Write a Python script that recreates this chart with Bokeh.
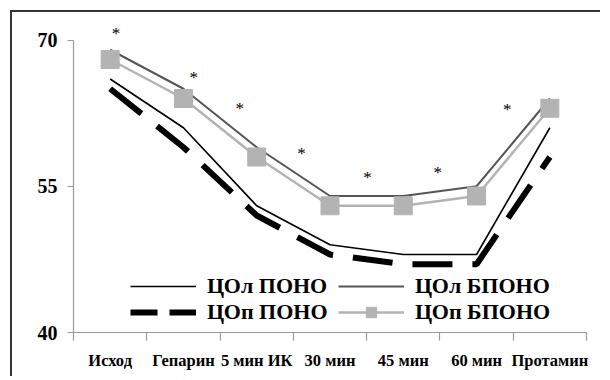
from bokeh.plotting import figure
from bokeh.models import Range1d, FixedTicker, Legend, LegendItem, InlineStyleSheet
from bokeh.core.properties import value
from bokeh.embed import file_html
from bokeh.resources import INLINE

# ---- data -------------------------------------------------------------
categories = ["Исход", "Гепарин", "5 мин ИК", "30 мин", "45 мин", "60 мин", "Протамин"]
col_pono = [66, 61, 53, 49, 48, 48, 61]      # ЦОл ПОНО
cop_pono = [65, 59, 52, 48, 47, 47, 58]      # ЦОп ПОНО
col_bpono = [69, 65, 59, 54, 54, 55, 64]     # ЦОл БПОНО
cop_bpono = [68, 64, 58, 53, 53, 54, 63]     # ЦОп БПОНО
star_pos = [0.58, 1.64, 2.27, 3.11, 4.01, 4.97, 5.92]
star_vals = [70.7, 66.2, 63.0, 58.4, 55.9, 56.4, 62.9]
y_ticks = [40, 55, 70]

x = [i + 0.5 for i in range(len(categories))]
bounds = list(range(len(categories) + 1))

SERIF = "Liberation Serif"

p = figure(width=590, height=366, output_backend="svg", toolbar_location=None,
           x_range=Range1d(0, len(categories)), y_range=Range1d(40, 72),
           min_border_left=61, min_border_right=16, min_border_top=8, min_border_bottom=46)
p.outline_line_color = None
p.xgrid.visible = False
p.ygrid.visible = False
p.background_fill_color = "white"
p.border_fill_color = "white"

# x axis: labels at category centres, tick marks (minor) at boundaries
xa = p.xaxis[0]
xa.ticker = FixedTicker(ticks=x, minor_ticks=bounds)
xa.major_label_overrides = {xi: c for xi, c in zip(x, categories)}
xa.axis_line_color = "#999999"
xa.axis_line_width = 1.2
xa.major_tick_out = 0
xa.major_tick_in = 0
xa.minor_tick_out = 8
xa.minor_tick_in = 0
xa.minor_tick_line_color = "#999999"
xa.minor_tick_line_width = 1.2
xa.major_label_standoff = 10
xa.major_label_text_font = SERIF
xa.major_label_text_font_style = "bold"
xa.major_label_text_font_size = "16.5px"
xa.major_label_text_color = "black"

ya = p.yaxis[0]
ya.ticker = FixedTicker(ticks=y_ticks, minor_ticks=[])
ya.bounds = (40, 70)
ya.axis_line_color = "#999999"
ya.axis_line_width = 1.2
ya.major_tick_out = 6
ya.major_tick_in = 0
ya.major_tick_line_color = "#999999"
ya.major_tick_line_width = 1.2
ya.minor_tick_line_color = None
ya.major_label_standoff = 10
ya.major_label_text_font = SERIF
ya.major_label_text_font_style = "bold"
ya.major_label_text_font_size = "20px"
ya.major_label_text_color = "black"

# series
r_col_pono = p.line(x, col_pono, line_color="black", line_width=1.6)
r_cop_pono = p.line(x, cop_pono, line_color="black", line_width=6, line_dash="40 20")
r_cop_pono_leg = p.line(x, cop_pono, line_color="black", line_width=6, line_dash="27 12", visible=False)
r_col_bpono = p.line(x, col_bpono, line_color="#555555", line_width=2)
r_cop_bpono = p.line(x, cop_bpono, line_color="#b3b3b3", line_width=2.5)
r_cop_bpono_m = p.scatter(x, cop_bpono, marker="square", size=18,
                          fill_color="#b3b3b3", line_color="#b3b3b3")

p.text(x=star_pos, y=star_vals, text=["*"] * len(star_pos), text_align="center",
       text_baseline="middle", text_font=value(SERIF), text_font_size="17px",
       text_color="black")

def make_legend(items, loc):
    lg = Legend(items=items, location=loc, orientation="vertical",
                glyph_width=66, glyph_height=26, label_height=26, spacing=0,
                padding=0, margin=0, label_standoff=11,
                border_line_color=None, background_fill_alpha=0,
                inactive_fill_alpha=0,
                label_text_font=SERIF, label_text_font_style="bold",
                label_text_font_size="22px", label_text_color="black")
    return lg

legA = make_legend([LegendItem(label="ЦОл ПОНО", renderers=[r_col_pono]),
                    LegendItem(label="ЦОп ПОНО", renderers=[r_cop_pono_leg])], (57, 7))
legB = make_legend([LegendItem(label="ЦОл БПОНО", renderers=[r_col_bpono]),
                    LegendItem(label="ЦОп БПОНО", renderers=[r_cop_bpono, r_cop_bpono_m])], (265, 7))
p.add_layout(legA)
p.add_layout(legB)

p.styles = {"margin-left": "10px", "margin-top": "10px"}
p.stylesheets = [InlineStyleSheet(css=":host { border-left: 2px solid #333333 !important; "
                                      "border-top: 2px solid #333333 !important; }")]

open("out.html", "w").write(file_html(p, INLINE))
